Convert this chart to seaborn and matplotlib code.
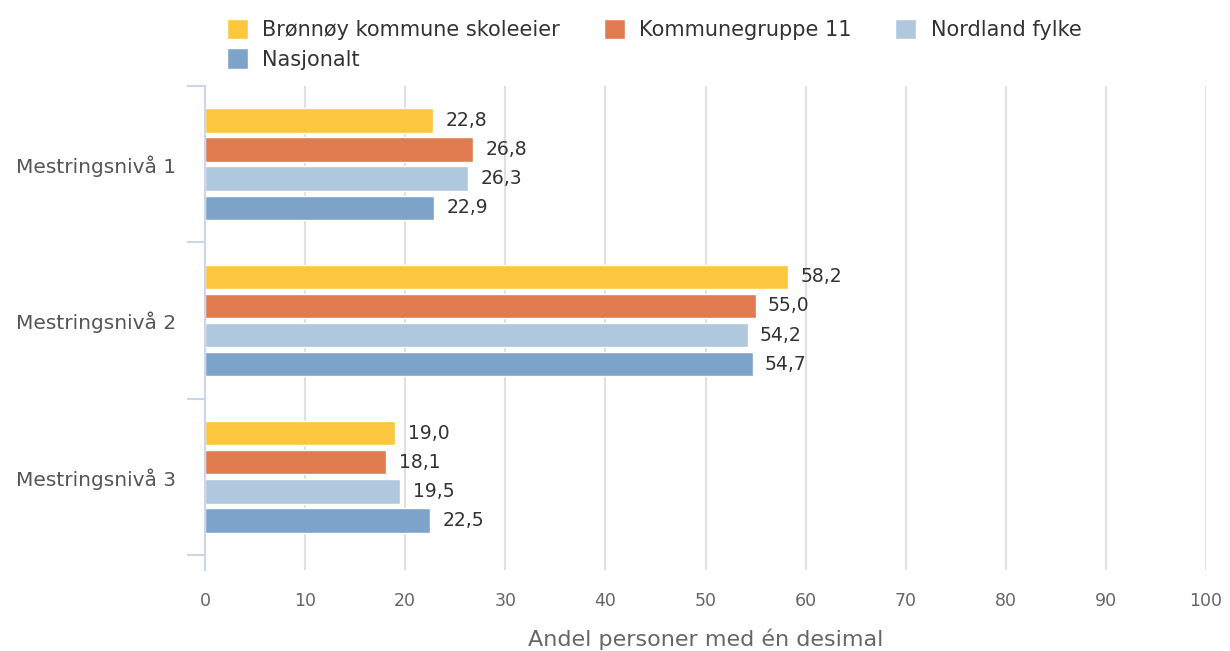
import numpy as np
import pandas as pd
import matplotlib
matplotlib.use("Agg")
import matplotlib.pyplot as plt
import seaborn as sns

nivaa = ["Mestringsnivå 1", "Mestringsnivå 2", "Mestringsnivå 3"]
grupper = ["Brønnøy kommune skoleeier", "Kommunegruppe 11", "Nordland fylke", "Nasjonalt"]
bronnoy = [22.8, 58.2, 19.0]
kommunegruppe = [26.8, 55.0, 18.1]
nordland = [26.3, 54.2, 19.5]
nasjonalt = [22.9, 54.7, 22.5]
farger = ["#FDC63F", "#E07B4F", "#B0C8DD", "#7DA3C8"]
xticks = [0, 10, 20, 30, 40, 50, 60, 70, 80, 90, 100]

rows = []
for g, vals in zip(grupper, [bronnoy, kommunegruppe, nordland, nasjonalt]):
    for n, v in zip(nivaa, vals):
        rows.append({"nivaa": n, "gruppe": g, "verdi": v})
df = pd.DataFrame(rows)

sns.set_style("white")
plt.rcParams["font.family"] = ["DejaVu Sans"]

fig = plt.figure(figsize=(12.3, 6.51), dpi=100)
ax = fig.add_axes([205/1230, 1-570/651, (1206-205)/1230, (570-86)/651])

sns.barplot(data=df, y="nivaa", x="verdi", hue="gruppe", order=nivaa, hue_order=grupper,
            palette=farger, saturation=1, orient="h", width=0.745, gap=0.16,
            edgecolor="white", linewidth=1, ax=ax, legend=True)

for cont in ax.containers:
    labs = [f"{b.get_width():.1f}".replace(".", ",") for b in cont]
    ax.bar_label(cont, labels=labs, padding=9, fontsize=13.5, color="#333333")

ax.set_xlim(0, 100)
ax.set_ylim(2.596, -0.5)
ax.set_xticks(xticks)
ax.set_xticklabels([str(t) for t in xticks])
ax.xaxis.grid(True, color="#E0E0E0", linewidth=1.5)
ax.set_axisbelow(True)
ax.tick_params(axis="x", length=0, pad=16, labelsize=12.5, labelcolor="#666666")
ax.tick_params(axis="y", which="major", left=False, length=0, pad=21, labelsize=14.5, labelcolor="#555555")
ax.set_yticks([-0.5, 0.5, 1.5, 2.5], minor=True)
ax.tick_params(axis="y", which="minor", left=True, length=13, width=1.5, color="#CCD6EB")
for s in ["top", "right", "bottom"]:
    ax.spines[s].set_visible(False)
ax.spines["left"].set_color("#CCD6EB")
ax.spines["left"].set_linewidth(1.5)
ax.set_ylabel("")
ax.set_xlabel("Andel personer med én desimal", fontsize=16, color="#666666", labelpad=13)

handles, labels = ax.get_legend_handles_labels()
ax.legend_.remove()
order = [0, 3, 1, 2]
leg = fig.legend([handles[i] for i in order], [labels[i] for i in order], ncol=3,
                 loc="upper left", bbox_to_anchor=(208/1230, 1.0), frameon=False,
                 handlelength=1.0, handleheight=1.15, handletextpad=0.7,
                 columnspacing=2.1, labelspacing=0.4,
                 prop={"size": 15})
for t in leg.get_texts():
    t.set_color("#333333")

fig.savefig("out.png", dpi=100)
